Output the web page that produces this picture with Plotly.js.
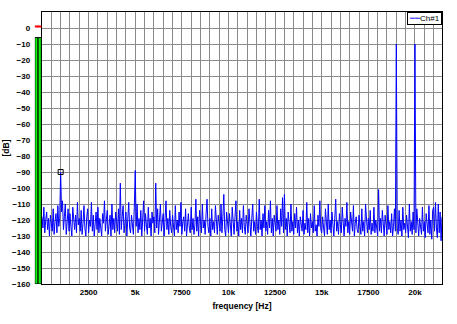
<!DOCTYPE html>
<html>
<head>
<meta charset="utf-8">
<script src="https://cdn.plot.ly/plotly-3.0.1.min.js"></script>
<style>html,body{margin:0;padding:0;background:#fff}#chart{width:457px;height:324px}</style>
</head>
<body>
<div id="chart"></div>
<script>
// Spectrum: 50 Hz bins from 0 Hz
var binStep = 50;
var spectrumDb = [
-118,-125,-112,-128,-120,-115,-126,-119,-130,-117,-122,-127,-113,-129,-121,-116,-128,-111,-124,-119,
-90,-115,-108,-126,-118,-110,-129,-121,-113,-127,-116,-124,-130,-112,-120,-126,-117,-128,-109,-123,
-119,-127,-114,-129,-122,-111,-125,-130,-118,-113,-128,-120,-124,-109,-127,-117,-130,-121,-115,-126,
-112,-128,-119,-125,-130,-116,-122,-108,-127,-120,-114,-129,-123,-117,-130,-110,-126,-119,-128,-115,
-121,-127,-113,-129,-97,-126,-118,-111,-128,-122,-115,-130,-120,-109,-125,-128,-117,-123,-129,-112,
-89,-124,-110,-128,-119,-126,-114,-130,-121,-108,-127,-116,-123,-129,-112,-125,-119,-130,-115,-122,
-118,-128,-97,-125,-113,-129,-120,-110,-127,-123,-116,-130,-121,-108,-126,-119,-129,-114,-124,-128,
-117,-122,-130,-111,-126,-120,-128,-115,-124,-109,-129,-121,-118,-127,-113,-130,-122,-116,-125,-128,
-112,-126,-119,-129,-123,-107,-127,-118,-130,-114,-121,-128,-110,-125,-120,-129,-116,-107,-124,-128,
-119,-130,-113,-126,-121,-128,-111,-124,-129,-117,-122,-127,-110,-128,-118,-104,-126,-130,-115,-123,
-128,-116,-125,-130,-112,-122,-129,-118,-108,-127,-121,-130,-114,-126,-119,-128,-111,-124,-129,-117,
-123,-128,-113,-126,-130,-119,-110,-127,-121,-129,-115,-124,-128,-107,-126,-120,-130,-116,-125,-111,
-127,-121,-129,-114,-125,-108,-128,-119,-130,-117,-123,-127,-111,-126,-120,-129,-113,-124,-106,-128,
-104,-126,-119,-130,-115,-124,-128,-110,-127,-121,-129,-116,-125,-112,-128,-120,-130,-118,-123,-127,
-114,-129,-122,-126,-109,-128,-119,-130,-116,-125,-121,-128,-111,-127,-123,-130,-117,-124,-108,-126,
-128,-118,-125,-130,-113,-122,-129,-110,-126,-120,-128,-115,-124,-130,-119,-107,-127,-121,-129,-116,
-123,-128,-112,-126,-130,-119,-124,-109,-128,-121,-129,-115,-125,-127,-111,-130,-122,-118,-126,-128,
-117,-124,-129,-113,-127,-121,-130,-110,-125,-128,-119,-126,-114,-129,-122,-127,-112,-128,-120,-124,
-130,-101,-127,-119,-128,-114,-125,-130,-117,-122,-129,-111,-126,-121,-128,-116,-130,-124,-113,-127,
-10,-125,-129,-114,-127,-120,-130,-112,-126,-122,-128,-117,-124,-131,-110,-127,-121,-129,-115,-126,
-10,-128,-113,-126,-130,-119,-124,-129,-112,-127,-121,-131,-116,-125,-128,-111,-129,-120,-132,-114,
-112,-127,-109,-125,-131,-110,-128,-115,-133,-118
];
var freqHz = spectrumDb.map(function(_, i){ return i * binStep; });
var seriesName = 'Ch#1';

// Marked peak (cursor)
var markerIndex = 20;

// Level meter
var meterChannels = ['L', 'R'];
var meterLevelDb = [-6, -6];
var meterPeakHoldDb = [1, 1];

// Axes
var xTickVals = [2500, 5000, 7500, 10000, 12500, 15000, 17500, 20000];
var xTickText = ['2500', '5k', '7500', '10k', '12500', '15k', '17500', '20k'];
var yTickVals = [0, -10, -20, -30, -40, -50, -60, -70, -80, -90, -100, -110, -120, -130, -140, -150, -160];
var yMin = -160, yMax = 10;

var fam = 'Liberation Sans, Arial, sans-serif';
var tickFnt = {family: fam, size: 8, color: '#000', weight: 'bold'};
var titleFnt = {family: fam, size: 8.5, color: '#000', weight: 'bold'};

var traces = [
  {
    type: 'scatter', mode: 'lines', name: seriesName, showlegend: false,
    x: freqHz, y: spectrumDb,
    line: {color: '#0000ff', width: 1},
    xaxis: 'x', yaxis: 'y'
  },
  {
    type: 'scatter', mode: 'markers', showlegend: false,
    x: [freqHz[markerIndex]], y: [spectrumDb[markerIndex]],
    marker: {symbol: 'square-open', size: 5, color: '#000', line: {width: 1}},
    xaxis: 'x', yaxis: 'y'
  },
  {
    type: 'bar', showlegend: false,
    x: meterChannels,
    y: meterLevelDb.map(function(v){ return v - yMin; }),
    base: yMin,
    marker: {color: '#11ee11', line: {color: '#000', width: 1}},
    xaxis: 'x2', yaxis: 'y2'
  },
  {
    type: 'scatter', mode: 'markers', showlegend: false,
    x: meterChannels, y: meterPeakHoldDb,
    marker: {symbol: 'line-ew-open', size: 3, color: '#ff0000', line: {color: '#ff0000', width: 2}},
    xaxis: 'x2', yaxis: 'y2'
  }
];

var layout = {
  width: 457, height: 324,
  margin: {l: 34, r: 15, t: 12, b: 40},
  paper_bgcolor: '#fff', plot_bgcolor: '#fff',
  font: tickFnt,
  showlegend: false,
  bargap: 0,
  annotations: [{
    xref: 'paper', yref: 'paper', x: 1, y: 1, xanchor: 'right', yanchor: 'top',
    showarrow: false, align: 'left',
    text: '<span style="color:#5555ff">━━</span>' + seriesName,
    font: {family: fam, size: 8, color: '#000', weight: 'normal'},
    bgcolor: '#fff', bordercolor: '#000', borderwidth: 1, borderpad: 1
  }],
  xaxis: {
    domain: [0.0196, 1],
    range: [0, 21450],
    tickmode: 'array', tickvals: xTickVals, ticktext: xTickText,
    ticks: '', tickfont: tickFnt,
    showgrid: true, gridcolor: '#8a8a8a', gridwidth: 1,
    minor: {tickmode: 'linear', tick0: 0, dtick: 500, showgrid: true, gridcolor: '#8a8a8a', gridwidth: 1, ticks: ''},
    showline: true, linecolor: '#000', linewidth: 1.3, mirror: true,
    zeroline: false,
    title: {text: 'frequency [Hz]', font: titleFnt, standoff: 7},
    anchor: 'y'
  },
  yaxis: {
    range: [yMin, yMax],
    tickmode: 'array', tickvals: yTickVals,
    ticks: '', tickfont: tickFnt, ticklabelstandoff: 9,
    showgrid: true, gridcolor: '#8a8a8a', gridwidth: 1,
    showline: true, linecolor: '#000', linewidth: 1.3, mirror: true,
    zeroline: false,
    title: {text: '[dB]', font: titleFnt, standoff: 1},
    anchor: 'x'
  },
  xaxis2: {
    domain: [0.002, 0.018],
    range: [-0.5, 1.5],
    showgrid: false, showticklabels: false, zeroline: false, showline: false, ticks: '',
    anchor: 'y2', fixedrange: true
  },
  yaxis2: {
    range: [yMin, yMax],
    showgrid: false, showticklabels: false, zeroline: false, showline: false, ticks: '',
    anchor: 'x2'
  }
};

Plotly.newPlot('chart', traces, layout, {displayModeBar: false, staticPlot: true});
</script>
</body>
</html>
